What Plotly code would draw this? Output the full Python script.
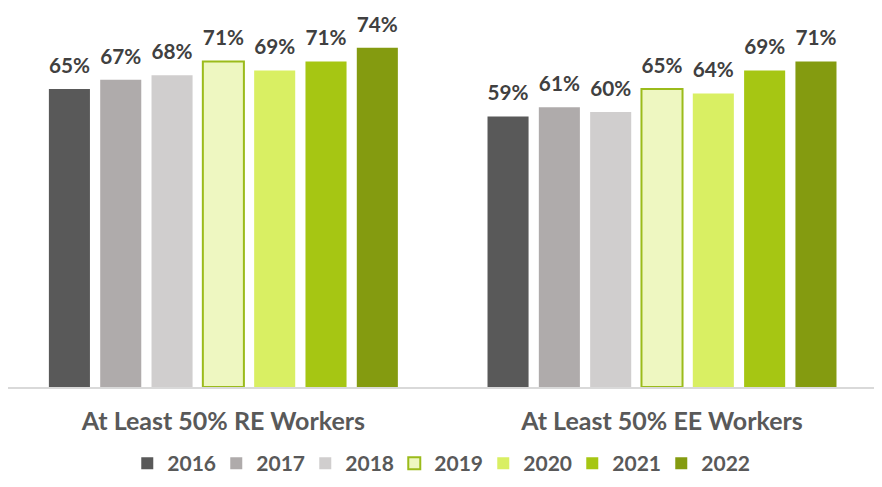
import plotly.graph_objects as go

categories = ["At Least 50% RE Workers", "At Least 50% EE Workers"]
years = ["2016", "2017", "2018", "2019", "2020", "2021", "2022"]
values = {
    "2016": [65, 59],
    "2017": [67, 61],
    "2018": [68, 60],
    "2019": [71, 65],
    "2020": [69, 64],
    "2021": [71, 69],
    "2022": [74, 71],
}
fill_colors = ["#595959", "#AFABAB", "#D0CECE", "#EEF7C1", "#D9EF63", "#A6C613", "#849B10"]
line_colors = ["#595959", "#AFABAB", "#D0CECE", "#9BBB1B", "#D9EF63", "#A6C613", "#849B10"]
line_widths = [0, 0, 0, 2, 0, 0, 0]

LABEL_GAP = 2.0  # visual gap (axis units) between bar top and its label
FONT = "Lato"
fig = go.Figure()
for y, fc, lc, lw in zip(years, fill_colors, line_colors, line_widths):
    vals = values[y]
    fig.add_trace(go.Bar(
        name=y, x=categories, y=vals, offsetgroup=y,
        marker=dict(color=fc, line=dict(color=lc, width=lw)),
        hoverinfo="x+y+name",
    ))
    # transparent companion bar carrying the value label slightly above the bar
    fig.add_trace(go.Bar(
        name=y, x=categories, y=[LABEL_GAP] * len(vals), base=vals, offsetgroup=y,
        marker=dict(color="rgba(0,0,0,0)", line=dict(width=0)),
        text=[f"{v}%" for v in vals], textposition="outside",
        textfont=dict(family=FONT, size=21, color="#404040", weight="bold"),
        cliponaxis=False, showlegend=False, hoverinfo="skip",
    ))

fig.update_layout(
    width=874, height=479,
    margin=dict(l=0, r=2, t=3, b=100, autoexpand=False),
    barmode="group", bargap=0.181, bargroupgap=0.2,
    plot_bgcolor="white", paper_bgcolor="white",
    font=dict(family=FONT, color="#595959"),
    showlegend=True,
    legend=dict(orientation="h", x=0.494, xanchor="center", y=-0.149, yanchor="top",
                font=dict(family=FONT, size=21, color="#595959", weight="bold"),
                entrywidth=44, entrywidthmode="pixels", itemwidth=30),
    xaxis=dict(showline=True, linecolor="#D9D9D9", linewidth=2, ticks="",
               range=[-0.491, 1.497], ticklabelstandoff=11,
               tickfont=dict(family=FONT, size=25, color="#595959", weight="bold")),
    yaxis=dict(range=[0, 82], visible=False, showgrid=False),
)
fig.write_html("out.html")
